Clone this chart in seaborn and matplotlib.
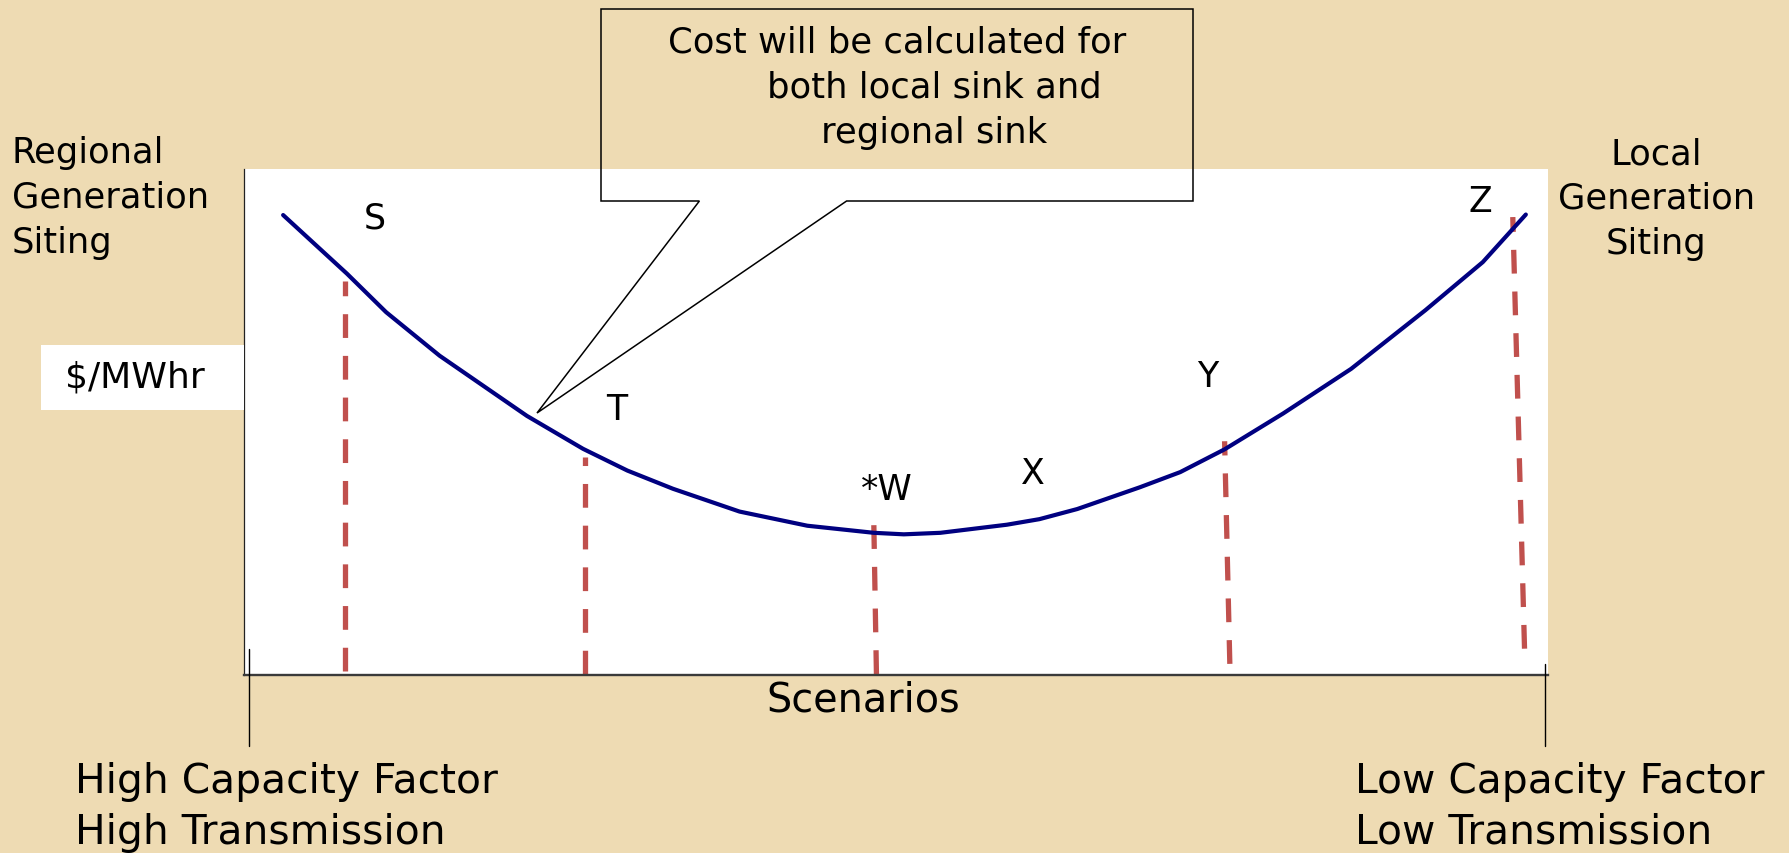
import matplotlib
import matplotlib.pyplot as plt
import numpy as np
import pandas as pd
import seaborn as sns
from matplotlib.patches import Polygon, Rectangle

matplotlib.use("Agg")

# cost curve across the scenario range (x: scenario position, y: $/MWhr, both 0-100)
curve_x = [3.0, 7.9, 10.9, 15.0, 21.7, 26.0, 29.4, 32.9, 38.0, 43.2, 48.3, 50.6,
           53.4, 58.5, 61.0, 63.9, 68.7, 71.8, 75.2, 79.7, 84.9, 90.6, 95.0, 98.3]
curve_y = [90.9, 79.3, 71.7, 63.1, 51.2, 44.7, 40.4, 36.8, 32.3, 29.5, 28.1, 27.8,
           28.1, 29.7, 30.8, 32.8, 37.1, 40.1, 44.6, 51.7, 60.5, 72.1, 81.6, 91.0]

# scenario markers (dashed drop lines), bottom and top ends
scenarios = ["S", "T", "*W", "X", "Y", "Z"]
marker_names = ["S", "T", "*W", "Y", "Z"]
marker_x_bottom = [7.75, 26.15, 48.5, 75.6, 98.2]
marker_y_bottom = [0.8, 0.2, 0.2, 2.2, 5.2]
marker_x_top = [7.75, 26.15, 48.3, 75.2, 97.3]
marker_y_top = [77.9, 43.1, 29.8, 46.2, 90.5]

callout_lines = ["Cost will be calculated for", "both local sink and", "regional sink"]
left_side = ["Regional", "Generation", "Siting"]
right_side = ["Local", "Generation", "Siting"]
bottom_left = ["High Capacity Factor", "High Transmission"]
bottom_right = ["Low Capacity Factor", "Low Transmission"]

W, H = 1790, 854
BG = "#EEDBB3"
NAVY = "#000080"
RED = "#C0504D"

sns.set_theme(style="white")
plt.rcParams["font.family"] = ["DejaVu Sans"]
plt.rcParams["text.color"] = "black"

fig = plt.figure(figsize=(W / 100, H / 100), dpi=100, facecolor=BG)

# white chart panel (pixel box 244..1548 x 170..676)
ax = fig.add_axes([244 / W, 1 - 676 / H, 1304 / W, 506 / H])
ax.set_facecolor("white")
ax.set_xlim(0, 100)
ax.set_ylim(0, 100)
ax.set_xticks([])
ax.set_yticks([])
for side in ("top", "right"):
    ax.spines[side].set_visible(False)
ax.spines["left"].set_color("#222222")
ax.spines["left"].set_linewidth(0.9)
ax.spines["bottom"].set_color("#3a3a3a")
ax.spines["bottom"].set_linewidth(1.7)

curve = pd.DataFrame({"x": curve_x, "y": curve_y})
sns.lineplot(data=curve, x="x", y="y", sort=False, estimator=None,
             color=NAVY, lw=3.0, ax=ax, zorder=3)

rows = []
for name, xb, yb, xt, yt in zip(marker_names, marker_x_bottom, marker_y_bottom,
                                marker_x_top, marker_y_top):
    rows.append({"scenario": name, "order": 0, "x": xb, "y": yb})
    rows.append({"scenario": name, "order": 1, "x": xt, "y": yt})
drops = pd.DataFrame(rows)
sns.lineplot(data=drops, x="x", y="y", units="scenario", estimator=None, sort=False,
             color=RED, lw=3.8, linestyle=(0, (4.5, 3.4)), ax=ax, zorder=2)
ax.set_xlabel("")
ax.set_ylabel("")

# scenario letters, baseline positions in panel units
label_pos = {"S": (10.05, 88.5), "T": (28.6, 50.6), "*W": (49.3, 34.8),
             "X": (60.5, 37.9), "Y": (73.9, 57.2), "Z": (94.8, 91.7)}
for s in scenarios:
    lx, ly = label_pos[s]
    ax.text(lx, ly, s, ha="center", va="baseline", fontsize=25, color="black")

# overlay in pixel coordinates for the slide furniture
ov = fig.add_axes([0, 0, 1, 1])
ov.set_xlim(0, W)
ov.set_ylim(H, 0)
ov.axis("off")
ov.patch.set_alpha(0)

ov.add_patch(Rectangle((41, 346), 203, 65, facecolor="white", edgecolor="none"))
ov.text(135, 388, "$/MWhr", ha="center", va="baseline", fontsize=26, color="black")

callout = Polygon([(601, 10), (1193, 10), (1193, 202), (846.6, 202), (537, 414),
                   (699.4, 202), (601, 202)], closed=True, fill=False,
                  edgecolor="black", lw=1.1)
ov.add_patch(callout)
for line, cx, by in zip(callout_lines, [897, 934.7, 934.5], [52.7, 97.7, 142.7]):
    ov.text(cx, by, line, ha="center", va="baseline", fontsize=25.5, color="black")

for line, by in zip(left_side, [163, 208, 253]):
    ov.text(12, by, line, ha="left", va="baseline", fontsize=25.4, color="black")
for line, by in zip(right_side, [164.6, 208.6, 254]):
    ov.text(1656.5, by, line, ha="center", va="baseline", fontsize=25.4, color="black")

# end ticks of the scenario axis
ov.plot([249, 249], [650, 747], color="black", lw=1.0)
ov.plot([1545, 1545], [665, 747], color="black", lw=1.0)
ov.text(863.3, 711.7, "Scenarios", ha="center", va="baseline", fontsize=28.6, color="black")

for line, by in zip(bottom_left, [793.3, 844]):
    ov.text(75, by, line, ha="left", va="baseline", fontsize=29.3, color="black")
for line, by in zip(bottom_right, [793.3, 844]):
    ov.text(1355, by, line, ha="left", va="baseline", fontsize=29.3, color="black")

fig.savefig("out.png", dpi=100, facecolor=fig.get_facecolor())
plt.close(fig)
